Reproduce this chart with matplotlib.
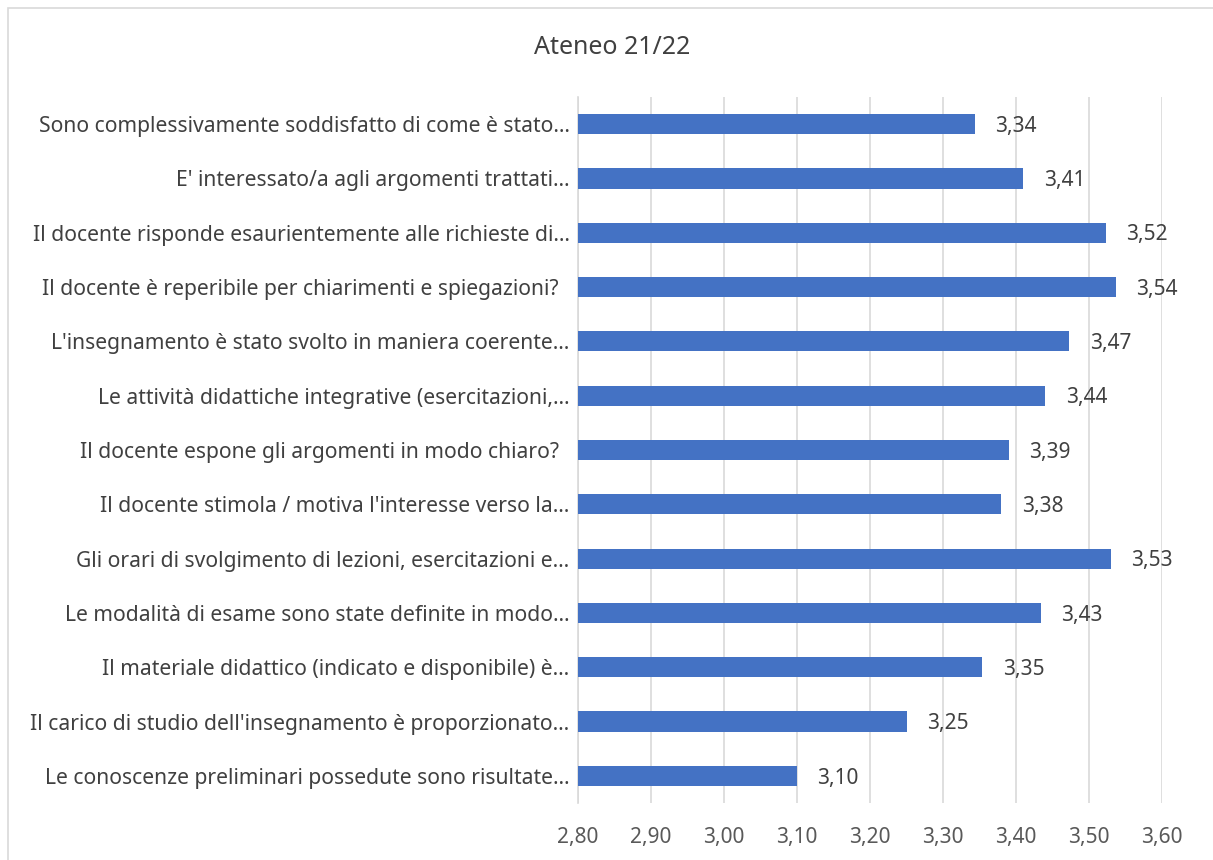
import matplotlib.pyplot as plt
from matplotlib.patches import Rectangle

plt.rcParams['font.family'] = ['Noto Sans', 'DejaVu Sans']

# Data (top to bottom as shown)
labels = [
    "Sono complessivamente soddisfatto di come è stato…",
    "E' interessato/a agli argomenti trattati…",
    "Il docente risponde esaurientemente alle richieste di…",
    "Il docente è reperibile per chiarimenti e spiegazioni?  ",
    "L'insegnamento è stato svolto in maniera coerente…",
    "Le attività didattiche integrative (esercitazioni,…",
    "Il docente espone gli argomenti in modo chiaro?  ",
    "Il docente stimola / motiva l'interesse verso la…",
    "Gli orari di svolgimento di lezioni, esercitazioni e…",
    "Le modalità di esame sono state definite in modo…",
    "Il materiale didattico (indicato e disponibile) è…",
    "Il carico di studio dell'insegnamento è proporzionato…",
    "Le conoscenze preliminari possedute sono risultate…",
]
values = [3.344, 3.41, 3.523, 3.537, 3.473, 3.44, 3.39, 3.38, 3.53, 3.434, 3.354, 3.25, 3.10]
xticks = [2.80, 2.90, 3.00, 3.10, 3.20, 3.30, 3.40, 3.50, 3.60]
title = "Ateneo 21/22"

W, H = 1213, 860
fig = plt.figure(figsize=(W / 100, H / 100), dpi=100)
fig.patches.append(Rectangle((8 / W, -0.01), 1.0, 1 - 8 / H + 0.01, transform=fig.transFigure,
                             fill=False, edgecolor='#d9d9d9', linewidth=1.2))

ax = fig.add_axes([578 / W, 1 - 803 / H, (1162 - 578) / W, (803 - 97) / H])

ypos = list(range(len(labels)))
ax.barh(ypos, [v - xticks[0] for v in values], left=xticks[0], height=0.37,
        color='#4472c4', zorder=3)
for y, v in zip(ypos, values):
    ax.text(v + 0.028, y + 0.04, f"{v:.2f}".replace('.', ','), va='center', ha='left',
            fontsize=15, color='#404040')

ax.set_ylim(len(labels) - 0.5, -0.5)
ax.set_xlim(xticks[0], xticks[-1])
ax.set_yticks(ypos)
ax.set_yticklabels(labels, fontsize=15.2, color='#404040')
ax.set_xticks(xticks)
ax.set_xticklabels([f"{t:.2f}".replace('.', ',') for t in xticks], fontsize=15, color='#595959')
ax.tick_params(axis='y', length=0, pad=6)
ax.tick_params(axis='x', length=0, pad=17)
ax.grid(axis='x', color='#d9d9d9', linewidth=1.2, zorder=0)
for s in ['top', 'right', 'bottom']:
    ax.spines[s].set_visible(False)
ax.spines['left'].set_color('#d9d9d9')
ax.spines['left'].set_linewidth(1.2)

fig.text(612 / W, 1 - 48 / H, title, ha='center', va='center',
         fontsize=18, color='#404040')

fig.savefig('out.png', dpi=100)
